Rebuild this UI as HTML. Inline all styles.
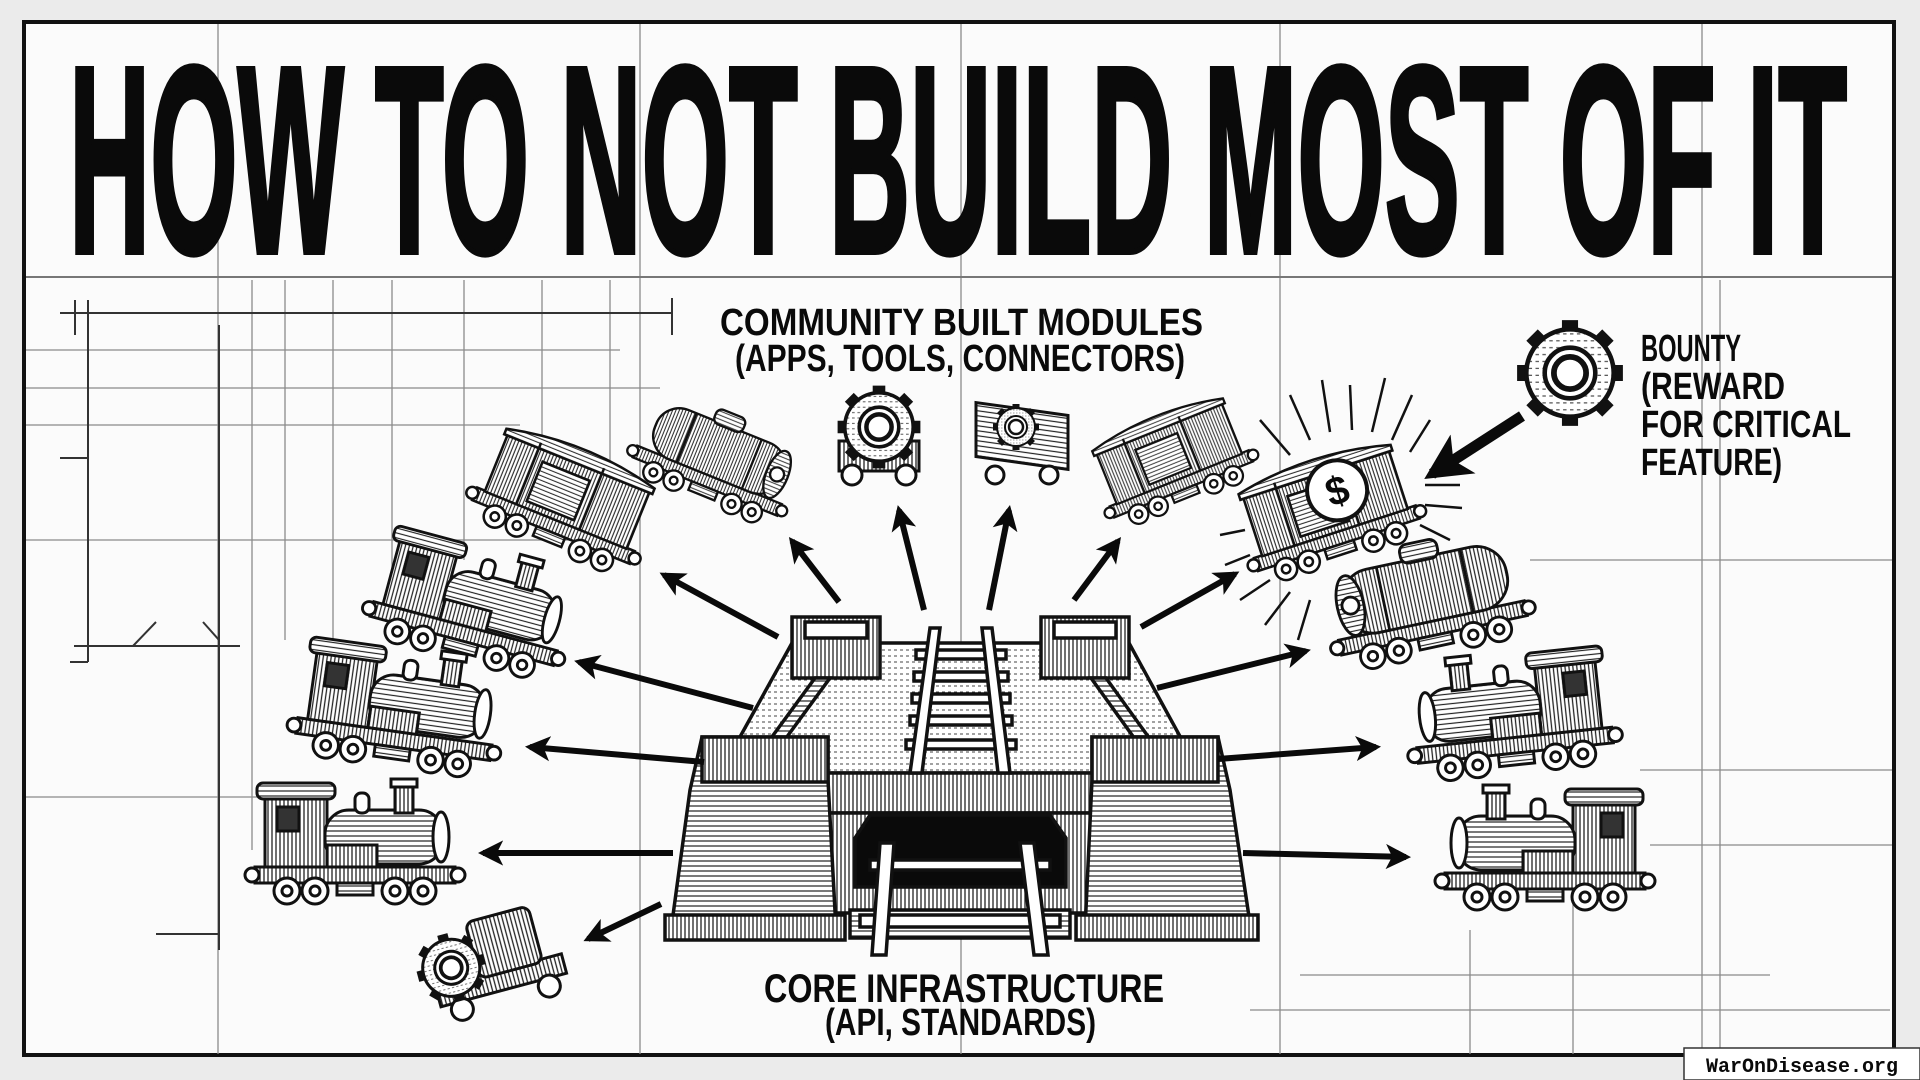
<!DOCTYPE html>
<html><head><meta charset="utf-8"><style>
html,body{margin:0;padding:0;width:1920px;height:1080px;overflow:hidden;background:#ececec;}
svg{display:block}
text{font-family:"Liberation Sans",sans-serif;font-weight:bold;fill:#0a0a0a}
</style></head><body>
<svg width="1920" height="1080" viewBox="0 0 1920 1080" xmlns="http://www.w3.org/2000/svg">
<defs>
<pattern id="hv" width="4" height="4" patternUnits="userSpaceOnUse"><rect width="4" height="4" fill="#fff"/><line x1="1" y1="0" x2="1" y2="4" stroke="#222" stroke-width="1.3"/></pattern>
<pattern id="hh" width="5" height="5" patternUnits="userSpaceOnUse"><rect width="5" height="5" fill="#fff"/><line x1="0" y1="1" x2="5" y2="1" stroke="#222" stroke-width="1.2"/></pattern>
<pattern id="hd" width="6" height="6" patternUnits="userSpaceOnUse"><rect width="6" height="6" fill="#fff"/><line x1="0" y1="2" x2="3" y2="2" stroke="#444" stroke-width="1"/></pattern>
<g id="wheels" stroke="#111" stroke-width="3" fill="#fff">
<rect x="-100" y="22" width="200" height="16" fill="url(#hv)"/>
<circle cx="-103" cy="30" r="7"/><circle cx="103" cy="30" r="7"/>
<circle cx="-68" cy="46" r="13"/><circle cx="-40" cy="46" r="13"/><circle cx="40" cy="46" r="13"/><circle cx="68" cy="46" r="13"/>
<circle cx="-68" cy="46" r="5"/><circle cx="-40" cy="46" r="5"/><circle cx="40" cy="46" r="5"/><circle cx="68" cy="46" r="5"/>
<rect x="-18" y="38" width="36" height="12" fill="url(#hh)"/>
</g>
<g id="loco" stroke="#111" stroke-width="3">
<use href="#wheels"/>
<rect x="-90" y="-50" width="62" height="72" fill="url(#hv)"/>
<rect x="-98" y="-62" width="78" height="16" rx="6" fill="url(#hh)"/>
<rect x="-78" y="-38" width="22" height="24" fill="#333"/>
<rect x="-30" y="-35" width="118" height="54" rx="24" fill="url(#hh)"/>
<ellipse cx="86" cy="-8" rx="8" ry="25" fill="#fff"/>
<rect x="40" y="-62" width="18" height="30" fill="url(#hv)"/>
<rect x="36" y="-66" width="26" height="8" fill="#fff"/>
<rect x="0" y="-52" width="14" height="20" rx="6" fill="#fff"/>
<rect x="-28" y="0" width="50" height="22" fill="url(#hv)"/>
</g>
<g id="tank" stroke="#111" stroke-width="3">
<use href="#wheels"/>
<rect x="-88" y="-45" width="176" height="68" rx="32" fill="url(#hv)"/>
<line x1="-45" y1="-45" x2="-45" y2="23"/><line x1="45" y1="-45" x2="45" y2="23"/>
<ellipse cx="80" cy="-11" rx="14" ry="32" fill="url(#hh)"/>
<circle cx="80" cy="-11" r="9" fill="#fff"/>
<rect x="-22" y="-62" width="40" height="20" rx="8" fill="url(#hh)"/>
</g>
<g id="box" stroke="#111" stroke-width="3">
<use href="#wheels"/>
<rect x="-90" y="-55" width="180" height="78" fill="url(#hv)"/>
<path d="M-94,-55 Q0,-78 94,-55 L94,-48 L-94,-48Z" fill="url(#hh)"/>
<rect x="-40" y="-35" width="60" height="50" fill="url(#hh)"/>
<line x1="-50" y1="-55" x2="-50" y2="23"/><line x1="30" y1="-55" x2="30" y2="23"/>
</g>
<g id="gear" stroke="#111" stroke-width="3" fill="#fff">
<circle r="34" fill="url(#hh)"/>
<g stroke-width="14" stroke="#111"><line x1="0" y1="-46" x2="0" y2="46"/><line x1="-46" y1="0" x2="46" y2="0"/><line x1="-33" y1="-33" x2="33" y2="33"/><line x1="-33" y1="33" x2="33" y2="-33"/></g>
<circle r="38" fill="url(#hd)" stroke-width="4"/>
<circle r="22" fill="#fff" stroke-width="4"/>
<circle r="14" fill="#fff" stroke-width="5"/>
</g>
<marker id="ah" viewBox="0 0 10 10" refX="8" refY="5" markerWidth="4.2" markerHeight="4.2" orient="auto"><path d="M0,0 L10,5 L0,10 L2.5,5Z" fill="#0a0a0a"/></marker>
</defs>

<rect x="0" y="0" width="1920" height="1080" fill="#ebebeb"/>
<rect x="24" y="22" width="1870" height="1033" fill="#fbfbfb" stroke="#111" stroke-width="4"/>

<g stroke="#8a8a8a" stroke-width="1.3" fill="none">
<line x1="218" y1="24" x2="218" y2="1054"/><line x1="640" y1="24" x2="640" y2="1054"/><line x1="961" y1="24" x2="961" y2="1054"/><line x1="1280" y1="24" x2="1280" y2="1054"/><line x1="1702" y1="24" x2="1702" y2="1054"/>
<line x1="252" y1="280" x2="252" y2="850"/><line x1="285" y1="280" x2="285" y2="640"/><line x1="333" y1="280" x2="333" y2="660"/><line x1="392" y1="280" x2="392" y2="600"/><line x1="464" y1="280" x2="464" y2="560"/><line x1="542" y1="280" x2="542" y2="520"/><line x1="610" y1="280" x2="610" y2="500"/>
<line x1="1720" y1="280" x2="1720" y2="1054"/><line x1="1573" y1="900" x2="1573" y2="1054"/><line x1="1470" y1="930" x2="1470" y2="1054"/>
<line x1="26" y1="350" x2="620" y2="350"/><line x1="26" y1="388" x2="660" y2="388"/><line x1="26" y1="425" x2="520" y2="425"/><line x1="26" y1="540" x2="580" y2="540"/><line x1="26" y1="797" x2="260" y2="797"/>
<line x1="1530" y1="560" x2="1892" y2="560"/><line x1="1640" y1="770" x2="1892" y2="770"/><line x1="1650" y1="845" x2="1892" y2="845"/>
<line x1="1250" y1="1010" x2="1890" y2="1010"/><line x1="1300" y1="975" x2="1770" y2="975"/>
</g>
<line x1="26" y1="277" x2="1892" y2="277" stroke="#777" stroke-width="2"/>
<g stroke="#333" stroke-width="2" fill="none">
<line x1="60" y1="313" x2="672" y2="313"/><line x1="672" y1="298" x2="672" y2="335"/><line x1="75" y1="300" x2="75" y2="335"/>
<line x1="88" y1="300" x2="88" y2="662"/><line x1="70" y1="662" x2="88" y2="662"/><line x1="60" y1="458" x2="88" y2="458"/>
<line x1="74" y1="646" x2="240" y2="646"/><line x1="133" y1="646" x2="156" y2="622"/><line x1="203" y1="622" x2="219" y2="640"/>
<line x1="219" y1="325" x2="219" y2="950"/><line x1="156" y1="934" x2="219" y2="934"/>
</g>

<text x="69" y="252" font-size="266" textLength="1778" lengthAdjust="spacingAndGlyphs" stroke="#0a0a0a" stroke-width="6">HOW TO NOT BUILD MOST OF IT</text>

<text x="720" y="335" font-size="38" textLength="483" lengthAdjust="spacingAndGlyphs">COMMUNITY BUILT MODULES</text>
<text x="735" y="371" font-size="38" textLength="450" lengthAdjust="spacingAndGlyphs">(APPS, TOOLS, CONNECTORS)</text>
<text x="764" y="1002" font-size="40" textLength="400" lengthAdjust="spacingAndGlyphs">CORE INFRASTRUCTURE</text>
<text x="825" y="1035" font-size="38" textLength="271" lengthAdjust="spacingAndGlyphs">(API, STANDARDS)</text>
<text x="1641" y="361" font-size="38" textLength="100" lengthAdjust="spacingAndGlyphs">BOUNTY</text>
<text x="1641" y="399" font-size="38" textLength="144" lengthAdjust="spacingAndGlyphs">(REWARD</text>
<text x="1641" y="437" font-size="38" textLength="210" lengthAdjust="spacingAndGlyphs">FOR CRITICAL</text>
<text x="1641" y="475" font-size="38" textLength="141" lengthAdjust="spacingAndGlyphs">FEATURE)</text>

<use href="#gear" transform="translate(1570,373) scale(1.15)"/>

<g stroke="#111" stroke-width="2.5">
<line x1="1290" y1="455" x2="1260" y2="420"/><line x1="1310" y1="440" x2="1290" y2="395"/><line x1="1330" y1="432" x2="1322" y2="380"/><line x1="1352" y1="430" x2="1350" y2="385"/><line x1="1372" y1="432" x2="1385" y2="378"/><line x1="1392" y1="440" x2="1412" y2="395"/><line x1="1410" y1="452" x2="1430" y2="420"/>
<line x1="1425" y1="485" x2="1460" y2="485"/><line x1="1425" y1="505" x2="1462" y2="508"/><line x1="1420" y1="525" x2="1450" y2="540"/>
<line x1="1270" y1="580" x2="1240" y2="600"/><line x1="1290" y1="592" x2="1265" y2="625"/><line x1="1310" y1="600" x2="1298" y2="640"/>
<line x1="1245" y1="530" x2="1220" y2="535"/><line x1="1250" y1="555" x2="1225" y2="565"/>
</g>

<use href="#box" transform="translate(563,502) rotate(22) scale(0.85)"/>
<use href="#tank" transform="translate(716,459) rotate(22) scale(0.78)"/>
<g transform="translate(879,441)" stroke="#111" stroke-width="3"><rect x="-40" y="0" width="80" height="30" fill="url(#hv)"/><circle cx="-27" cy="34" r="10" fill="#fff"/><circle cx="27" cy="34" r="10" fill="#fff"/><use href="#gear" transform="translate(0,-14) scale(0.9)"/></g>
<g transform="translate(1022,441)" stroke="#111" stroke-width="3"><rect x="-46" y="-32" width="92" height="54" fill="url(#hh)" transform="skewY(8)"/><circle cx="-27" cy="34" r="9" fill="#fff"/><circle cx="27" cy="34" r="9" fill="#fff"/><use href="#gear" transform="translate(-6,-14) scale(0.5)"/></g>
<use href="#box" transform="translate(1173,463) rotate(-22) scale(0.75)"/>
<g transform="translate(1329,514) rotate(-18)"><use href="#box" transform="scale(0.85)"/><circle cx="15" cy="-20" r="30" fill="#fff" stroke="#111" stroke-width="4"/><text x="15" y="-6" font-size="40" text-anchor="middle">$</text></g>
<use href="#tank" transform="translate(1427,600) rotate(-12) scale(-0.95,0.95)"/>
<use href="#loco" transform="translate(1512,716) rotate(-6) scale(-0.98,0.98)"/>
<use href="#loco" transform="translate(1545,851) scale(-1,1)"/>
<use href="#loco" transform="translate(471,606) rotate(15) scale(0.95)"/>
<use href="#loco" transform="translate(398,710) rotate(8) scale(0.98)"/>
<use href="#loco" transform="translate(355,845) scale(1)"/>
<g transform="translate(496,961) rotate(-15)" stroke="#111" stroke-width="3"><rect x="-65" y="10" width="130" height="20" fill="url(#hv)"/><circle cx="-45" cy="38" r="11" fill="#fff"/><circle cx="45" cy="38" r="11" fill="#fff"/><rect x="-20" y="-45" width="65" height="58" rx="8" fill="url(#hv)"/><use href="#gear" transform="translate(-45,-5) scale(0.75)"/></g>

<g stroke="#111" stroke-width="3.5">
<polygon points="792,643 1129,643 1200,773 720,773" fill="url(#hd)"/>
<rect x="792" y="617" width="88" height="61" fill="url(#hv)"/><rect x="805" y="622" width="62" height="16" fill="#fff"/>
<rect x="1041" y="617" width="88" height="61" fill="url(#hv)"/><rect x="1054" y="622" width="62" height="16" fill="#fff"/>
<polygon points="815,678 830,678 770,760 755,760" fill="url(#hh)"/>
<polygon points="1106,678 1091,678 1150,760 1165,760" fill="url(#hh)"/>
<rect x="817" y="773" width="287" height="40" fill="url(#hv)"/>
<rect x="817" y="813" width="287" height="100" fill="url(#hv)"/>
<path d="M855,887 L855,838 L870,815 L1050,815 L1066,838 L1066,887Z" fill="#0a0a0a"/>
<polygon points="702,737 828,737 828,780 836,930 671,930 690,790" fill="url(#hh)"/>
<rect x="702" y="737" width="126" height="45" fill="url(#hv)"/>
<polygon points="1092,737 1218,737 1230,790 1251,930 1085,930 1092,780" fill="url(#hh)"/>
<rect x="1092" y="737" width="126" height="45" fill="url(#hv)"/>
<rect x="665" y="915" width="180" height="25" fill="url(#hv)"/>
<rect x="1076" y="915" width="182" height="25" fill="url(#hv)"/>
<rect x="850" y="910" width="220" height="28" fill="url(#hh)"/>
<g fill="#fff">
<rect x="916" y="650" width="90" height="9"/><rect x="914" y="672" width="94" height="9"/><rect x="912" y="694" width="98" height="9"/><rect x="910" y="716" width="102" height="9"/><rect x="906" y="740" width="110" height="9"/>
<rect x="870" y="860" width="180" height="10"/><rect x="860" y="915" width="200" height="12"/>
</g>
<polygon points="930,628 940,628 922,773 910,773" fill="#fff"/>
<polygon points="982,628 992,628 1010,773 998,773" fill="#fff"/>
<polygon points="880,843 894,843 886,955 872,955" fill="#fff"/>
<polygon points="1020,843 1034,843 1048,955 1034,955" fill="#fff"/>
</g>

<g stroke="#0a0a0a" stroke-width="6" marker-end="url(#ah)" fill="none">
<line x1="778" y1="637" x2="664" y2="575"/>
<line x1="839" y1="602" x2="792" y2="541"/>
<line x1="924" y1="610" x2="899" y2="510"/>
<line x1="989" y1="610" x2="1009" y2="510"/>
<line x1="1074" y1="600" x2="1118" y2="541"/>
<line x1="1141" y1="627" x2="1235" y2="574"/>
<line x1="1157" y1="688" x2="1306" y2="651"/>
<line x1="1218" y1="759" x2="1376" y2="747"/>
<line x1="1243" y1="853" x2="1406" y2="857"/>
<line x1="753" y1="708" x2="579" y2="662"/>
<line x1="704" y1="762" x2="530" y2="747"/>
<line x1="673" y1="853" x2="483" y2="853"/>
<line x1="661" y1="904" x2="588" y2="939"/>
<line x1="1522" y1="416" x2="1432" y2="474" stroke-width="11"/>
</g>

<rect x="1684" y="1048" width="236" height="32" fill="#fff" stroke="#333" stroke-width="1.5"/>
<text x="1802" y="1072" font-size="20" text-anchor="middle" style="font-family:'Liberation Mono',monospace;font-weight:bold">WarOnDisease.org</text>
</svg>
</body></html>
